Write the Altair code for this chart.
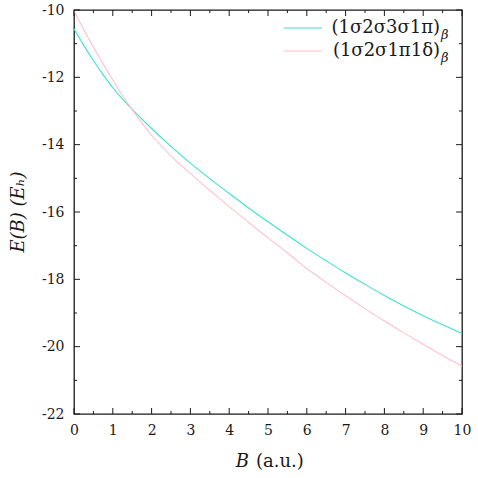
import altair as alt
import pandas as pd

# Magnetic field strength B (a.u.) and total energies E(B) (E_h) of the two states
B = [0, 0.1, 0.25, 0.5, 0.75, 1.0, 1.25, 1.5, 2.0, 2.5, 3.0, 3.5, 4.0, 4.5,
     5.0, 5.5, 6.0, 6.5, 7.0, 7.5, 8.0, 8.5, 9.0, 9.5, 10.0]
E_SIGMA_PI = [-10.56, -10.76, -11.05, -11.50, -11.92, -12.31, -12.65, -12.95,
              -13.52, -14.05, -14.55, -15.01, -15.45, -15.88, -16.29, -16.69,
              -17.08, -17.45, -17.81, -18.15, -18.48, -18.79, -19.08, -19.35, -19.61]
E_PI_DELTA = [-10.02, -10.25, -10.58, -11.10, -11.60, -12.08, -12.54, -12.96,
              -13.72, -14.33, -14.86, -15.36, -15.84, -16.31, -16.77, -17.21,
              -17.68, -18.09, -18.49, -18.87, -19.24, -19.59, -19.93, -20.26, -20.58]

SERIES = ["(1σ2σ3σ1π)", "(1σ2σ1π1δ)"]
COLORS = ["#40e0d0", "#ffc0cb"]

X_MAJOR = [0, 1, 2, 3, 4, 5, 6, 7, 8, 9, 10]
X_MINOR = [0.5, 1.5, 2.5, 3.5, 4.5, 5.5, 6.5, 7.5, 8.5, 9.5]
Y_MAJOR = [-22, -20, -18, -16, -14, -12, -10]
Y_MINOR = [-21, -19, -17, -15, -13, -11]

W, H = 388, 404
FONT = "DejaVu Serif"
INK = "#1a1a1a"

x_scale = alt.Scale(domain=[0, 10], nice=False, zero=False)
y_scale = alt.Scale(domain=[-22, -10], nice=False, zero=False)

x_axis = alt.Axis(values=X_MAJOR, ticks=False, domain=False, grid=False,
                  labelFont=FONT, labelFontSize=14, labelColor=INK,
                  labelPadding=9, labelFlush=False, title=None)
y_axis = alt.Axis(values=Y_MAJOR, ticks=False, domain=False, grid=False,
                  labelFont=FONT, labelFontSize=14, labelColor=INK,
                  labelPadding=10, labelFlush=False, title=None,
                  labelExpr="'' + datum.value")

curves = pd.DataFrame({
    "B": B + B,
    "E": E_SIGMA_PI + E_PI_DELTA,
    "state": [SERIES[0]] * len(B) + [SERIES[1]] * len(B),
})

lines = alt.Chart(curves).mark_line(strokeWidth=1.1, interpolate="monotone", clip=True).encode(
    x=alt.X("B:Q", scale=x_scale, axis=x_axis),
    y=alt.Y("E:Q", scale=y_scale, axis=y_axis),
    color=alt.Color("state:N", scale=alt.Scale(domain=SERIES, range=COLORS), legend=None),
    detail="state:N",
)


def x_ticks(values, length, top):
    return alt.Chart(pd.DataFrame({"v": values})).mark_rule(color=INK, strokeWidth=1).encode(
        x=alt.X("v:Q", scale=x_scale, axis=x_axis),
        y=alt.value(0 if top else H),
        y2=alt.value(length if top else H - length),
    )


def y_ticks(values, length, right):
    return alt.Chart(pd.DataFrame({"v": values})).mark_rule(color=INK, strokeWidth=1).encode(
        y=alt.Y("v:Q", scale=y_scale, axis=y_axis),
        x=alt.value(W if right else 0),
        x2=alt.value(W - length if right else length),
    )


tick_layers = []
for top in (False, True):
    tick_layers.append(x_ticks(X_MAJOR, 6, top))
    tick_layers.append(x_ticks(X_MINOR, 3, top))
for right in (False, True):
    tick_layers.append(y_ticks(Y_MAJOR, 6, right))
    tick_layers.append(y_ticks(Y_MINOR, 3, right))

# Legend in the upper right corner: sample line, state label, beta subscript
legend_layers = []
for i, (name, col) in enumerate(zip(SERIES, COLORS)):
    row = pd.DataFrame({"label": [name]})
    yc = 18 + 23 * i
    legend_layers.append(
        alt.Chart(row).mark_rule(strokeWidth=1.1).encode(
            x=alt.value(210), x2=alt.value(248), y=alt.value(yc), color=alt.value(col))
    )
    legend_layers.append(
        alt.Chart(row).mark_text(align="right", baseline="middle", font=FONT,
                                 fontSize=18, color=INK).encode(
            x=alt.value(366), y=alt.value(yc), text="label:N")
    )
    legend_layers.append(
        alt.Chart(row).mark_text(align="left", baseline="middle", font=FONT,
                                 fontSize=13, fontStyle="italic", color=INK).encode(
            x=alt.value(367), y=alt.value(yc + 7), text=alt.value("β"))
    )

# Axis titles
title_row = pd.DataFrame({"t": [0]})
titles = [
    alt.Chart(title_row).mark_text(align="right", baseline="alphabetic", font=FONT,
                                   fontSize=18, fontStyle="italic", color=INK).encode(
        x=alt.value(175), y=alt.value(457), text=alt.value("B")),
    alt.Chart(title_row).mark_text(align="left", baseline="alphabetic", font=FONT,
                                   fontSize=18, color=INK).encode(
        x=alt.value(182), y=alt.value(457), text=alt.value("(a.u.)")),
    alt.Chart(title_row).mark_text(align="center", baseline="middle", font=FONT,
                                   fontSize=18, fontStyle="italic", angle=270, color=INK).encode(
        x=alt.value(-55), y=alt.value(202), text=alt.value("E(B) (Eₕ)")),
]

chart = alt.layer(lines, *tick_layers, *legend_layers, *titles).properties(
    width=W,
    height=H,
    padding={"left": 74, "top": 10, "right": 16, "bottom": 64},
    autosize=alt.AutoSizeParams(type="none"),
    background="white",
).configure_view(stroke=INK, strokeWidth=1.3)

chart.save("out.html", embed_options={"renderer": "svg", "actions": False})
